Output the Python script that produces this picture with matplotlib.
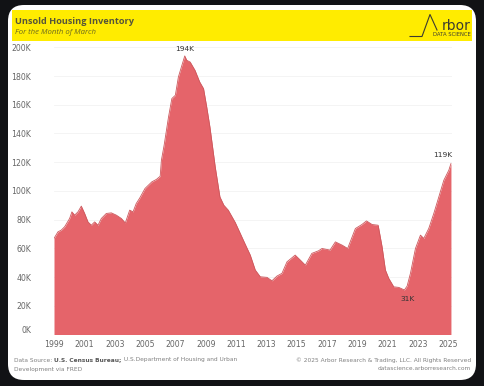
import matplotlib
matplotlib.use("Agg")
import matplotlib.pyplot as plt
import matplotlib.transforms as mtransforms
from matplotlib.patches import FancyBboxPatch, Rectangle
from matplotlib.lines import Line2D
from matplotlib.ticker import FuncFormatter

# ---- data ----
dates = [1999.00, 1999.26, 1999.48, 1999.70, 2000.03, 2000.18, 2000.36, 2000.58, 2000.80,
         2001.02, 2001.24, 2001.46, 2001.68, 2001.90, 2002.12, 2002.45, 2002.78, 2003.11,
         2003.44, 2003.70, 2003.99, 2004.21, 2004.42, 2004.65, 2005.00, 2005.45, 2005.75,
         2006.00, 2006.08, 2006.26, 2006.55, 2006.77, 2007.00, 2007.20, 2007.43, 2007.62,
         2007.75, 2007.98, 2008.30, 2008.60, 2008.86, 2009.07, 2009.28, 2009.63, 2009.94,
         2010.20, 2010.49, 2010.95, 2011.28, 2011.60, 2011.94, 2012.27, 2012.60, 2013.04,
         2013.37, 2013.70, 2014.03, 2014.36, 2014.90, 2015.24, 2015.57, 2016.00, 2016.44,
         2016.67, 2017.20, 2017.55, 2018.00, 2018.36, 2018.87, 2019.30, 2019.60, 2019.97,
         2020.37, 2020.63, 2020.85, 2021.07, 2021.40, 2021.73, 2022.10, 2022.28, 2022.50,
         2022.83, 2023.16, 2023.38, 2023.71, 2024.04, 2024.37, 2024.70, 2025.03, 2025.17]
inventory_k = [66.9, 71.5, 72.7, 75.0, 80.8, 85.4, 83.1, 85.4, 89.4,
               84.3, 78.4, 76.1, 78.4, 76.1, 80.8, 84.3, 84.7, 83.1,
               80.8, 77.7, 86.6, 85.4, 91.2, 95.0, 101.7, 106.3, 108.0,
               110.2, 121.3, 131.8, 151.5, 164.3, 166.6, 179.3, 187.4, 194.0,
               191.0, 189.7, 183.9, 176.0, 171.2, 158.4, 144.5, 116.7, 95.8,
               90.0, 86.6, 78.0, 70.4, 63.0, 55.3, 44.9, 40.2, 39.8,
               37.4, 40.7, 42.6, 50.6, 55.3, 51.8, 48.3, 56.5, 58.3,
               59.9, 58.8, 64.5, 62.2, 59.9, 73.8, 76.6, 79.1, 76.6,
               76.1, 61.1, 44.9, 39.1, 33.2, 32.8, 31.0, 33.7, 42.6,
               59.9, 69.2, 66.9, 73.9, 84.3, 95.8, 107.4, 114.4, 119.0]
x_tick_years = list(range(1999, 2026, 2))
y_ticks_k = list(range(0, 201, 20))
annotations = [(2007.62, 194.0, "194K"), (2022.10, 31.0, "31K"), (2025.17, 119.0, "119K")]

W, H = 484, 386
fig = plt.figure(figsize=(W / 100, H / 100), dpi=100)
fig.patch.set_facecolor("#111215")

def pin(x, y):
    return (x / 100, (H - y) / 100)

tr = fig.dpi_scale_trans
# white card
x0, y0 = pin(8, 380)
card = FancyBboxPatch((x0, y0), (476 - 8) / 100, (380 - 5) / 100,
                      boxstyle="round,pad=0,rounding_size=0.16", transform=tr,
                      facecolor="white", edgecolor="none", zorder=-3)
fig.patches.append(card)
# yellow header band
bx, by = pin(12, 41)
band = Rectangle((bx, by), (472 - 12) / 100, (41 - 10) / 100, transform=tr,
                 facecolor="#FFEC00", edgecolor="none", zorder=-2)
fig.patches.append(band)

fig.text(*pin(15, 21), "Unsold Housing Inventory", transform=tr, fontsize=6.6,
         fontweight="bold", color="#55543a", va="center", ha="left", family="Open Sans")
fig.text(*pin(15, 32.5), "For the Month of March", transform=tr, fontsize=5.6,
         style="italic", color="#6d6a1f", va="center", ha="left", family="Open Sans")

# logo
lx = [410, 422, 430, 437]
ly = [36.5, 36.5, 14.5, 30]
fig.lines.append(Line2D([v / 100 for v in lx], [(H - v) / 100 for v in ly], transform=tr,
                        color="#3c3c30", lw=0.8))
fig.text(*pin(471, 25.5), "rbor", transform=tr, fontsize=10, color="#3c3c30",
         ha="right", va="center", family="DejaVu Sans")
fig.text(*pin(471, 35), "DATA SCIENCE", transform=tr, fontsize=3.8, color="#3c3c30",
         ha="right", va="center", family="DejaVu Sans")

# axes
left, right, top, bottom = 54, 452, 47.3, 334.5
ax = fig.add_axes([left / W, 1 - bottom / H, (right - left) / W, (bottom - top) / H])
ax.set_zorder(1)
ax.set_facecolor("none")
ax.fill_between(dates, inventory_k, 0, color="#E5646A", linewidth=0, zorder=2)
ax.plot(dates, inventory_k, color="#cc575c", lw=0.6, zorder=3)
ax.set_xlim(1999.0, 2025.24)
ax.set_ylim(0, 200)
ax.set_xticks(x_tick_years)
ax.set_yticks(y_ticks_k)
ax.yaxis.set_major_formatter(FuncFormatter(lambda v, p: f"{int(v)}K"))
ax.tick_params(axis="both", length=0, labelsize=5.6, colors="#666666")
ax.tick_params(axis="y", pad=16.5)
ax.tick_params(axis="x", pad=4)
ax.grid(axis="y", color="#f3f3f3", lw=0.6, zorder=0)
for s in ax.spines.values():
    s.set_visible(False)
# the 0K label sits a little above the baseline, as in the reference
zero_lab = ax.get_yticklabels()[0]
zero_lab.set_transform(zero_lab.get_transform() +
                       mtransforms.ScaledTranslation(0, 5 / 100, fig.dpi_scale_trans))

for xv, yv, txt in annotations:
    if txt == "31K":
        ax.annotate(txt, (xv, yv), xytext=(2, -4), textcoords="offset points",
                    ha="center", va="top", fontsize=5.4, color="#333333")
    elif txt == "119K":
        ax.annotate(txt, (xv, yv), xytext=(-6, 4), textcoords="offset points",
                    ha="center", va="bottom", fontsize=5.4, color="#333333")
    else:
        ax.annotate(txt, (xv, yv), xytext=(0, 3), textcoords="offset points",
                    ha="center", va="bottom", fontsize=5.4, color="#333333")

# footer
fs = 4.2
renderer = fig.canvas.get_renderer()
parts = [("Data Source: ", "normal", "#808080"), ("U.S. Census Bureau;", "bold", "#555555"),
         (" U.S.Department of Housing and Urban", "normal", "#808080")]
cx = 14
for s, wgt, col in parts:
    t = fig.text(*pin(cx, 360), s, transform=tr, fontsize=fs, color=col, va="center",
                 fontweight=wgt)
    cx += t.get_window_extent(renderer).width
fig.text(*pin(14, 369), "Development via FRED", transform=tr, fontsize=fs, color="#808080", va="center")
fig.text(*pin(471, 360), "\u00a9 2025 Arbor Research & Trading, LLC. All Rights Reserved",
         transform=tr, fontsize=fs, color="#808080", va="center", ha="right")
fig.text(*pin(471, 369), "datascience.arborresearch.com", transform=tr, fontsize=fs,
         color="#808080", va="center", ha="right")

fig.savefig("out.png", dpi=100, facecolor=fig.get_facecolor())
